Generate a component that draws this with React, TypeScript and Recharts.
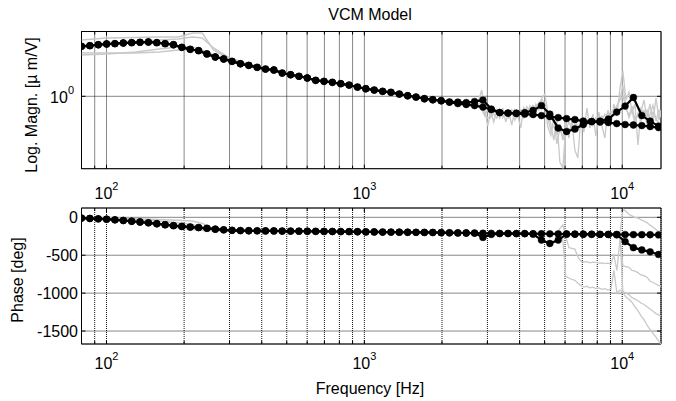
import React from 'react';
import { LineChart, Line, XAxis, YAxis, CartesianGrid, ReferenceArea } from 'recharts';

const FONT = '"Liberation Sans", Arial, sans-serif';
const X_MIN = 80;
const X_MAX = 14135;
const X_TICKS = [80, 90, 100, 200, 300, 400, 500, 600, 700, 800, 900, 1000, 2000, 3000, 4000, 5000, 6000, 7000, 8000, 9000, 10000];
const MAG_DOMAIN = [0.297, 2.965];
const MAG_TICKS = [1];
const PHASE_DOMAIN = [-1671, 123];
const PHASE_TICKS = [0, -500, -1000, -1500];

// model frequency grid (Hz)
const FREQ = [80.0, 86.2, 92.9, 100.1, 107.8, 116.2, 125.2, 134.9, 145.4, 156.7,
  168.8, 181.9, 196.0, 211.2, 227.6, 245.2, 264.2, 284.7, 306.8, 330.6,
  356.2, 383.8, 413.6, 445.7, 480.2, 517.5, 557.6, 600.8, 647.4, 697.6,
  751.6, 809.9, 872.8, 940.4, 1013, 1092, 1177, 1268, 1366, 1472,
  1586, 1709, 1842, 1985, 2138, 2304, 2483, 2675, 2883, 3106,
  3347, 3607, 3886, 4187, 4512, 4862, 5239, 5645, 6083, 6554,
  7063, 7610, 8200, 8836, 9520, 10260, 11050, 11910, 12830, 13830];

const MAG_MODEL_SMOOTH = [2.313, 2.337, 2.375, 2.405, 2.417, 2.444, 2.457, 2.474, 2.486, 2.457,
  2.417, 2.375, 2.274, 2.200, 2.149, 2.034, 1.933, 1.869, 1.797, 1.726,
  1.681, 1.626, 1.580, 1.554, 1.477, 1.436, 1.399, 1.359, 1.307, 1.285,
  1.264, 1.235, 1.208, 1.168, 1.135, 1.111, 1.087, 1.069, 1.039, 1.009,
  0.988, 0.960, 0.944, 0.928, 0.908, 0.885, 0.871, 0.856, 0.835, 0.801,
  0.761, 0.755, 0.749, 0.742, 0.736, 0.724, 0.712, 0.700, 0.688, 0.677,
  0.660, 0.655, 0.649, 0.644, 0.633, 0.623, 0.618, 0.612, 0.602, 0.592];

const MAG_MODEL_RESONANT = [2.313, 2.337, 2.375, 2.405, 2.417, 2.444, 2.457, 2.474, 2.486, 2.457,
  2.417, 2.375, 2.274, 2.200, 2.149, 2.034, 1.933, 1.869, 1.797, 1.726,
  1.681, 1.626, 1.580, 1.554, 1.477, 1.436, 1.399, 1.359, 1.307, 1.285,
  1.264, 1.235, 1.208, 1.168, 1.135, 1.111, 1.087, 1.069, 1.039, 1.009,
  0.988, 0.960, 0.944, 0.928, 0.908, 0.908, 0.900, 0.916, 0.939, 0.807,
  0.761, 0.755, 0.755, 0.761, 0.788, 0.856, 0.742, 0.587, 0.554, 0.578,
  0.623, 0.655, 0.660, 0.683, 0.768, 0.849, 0.980, 0.724, 0.660, 0.607];

const PHASE_MODEL_SMOOTH = [-10, -15, -20, -25, -33, -42, -52, -62, -72, -85,
  -98, -110, -120, -128, -135, -145, -156, -165, -171, -175,
  -177, -178, -179, -180, -181, -182, -183, -184, -185, -186,
  -187, -188, -189, -190, -192, -193, -194, -195, -196, -197,
  -198, -199, -200, -202, -204, -206, -207, -208, -210, -211,
  -212, -213, -214, -215, -216, -217, -218, -219, -220, -221,
  -222, -223, -224, -225, -226, -227, -228, -229, -230, -232];

const PHASE_MODEL_RESONANT = [-10, -15, -20, -25, -33, -42, -52, -62, -72, -85,
  -98, -110, -120, -128, -135, -145, -156, -165, -171, -175,
  -177, -178, -179, -180, -181, -182, -183, -184, -185, -186,
  -187, -188, -189, -190, -192, -193, -194, -195, -196, -197,
  -198, -199, -200, -202, -204, -206, -207, -208, -265, -225,
  -215, -214, -215, -216, -222, -300, -345, -300, -222, -222,
  -223, -224, -225, -226, -230, -320, -400, -430, -455, -490];

// measured curves, low frequency part (Hz)
const FREQ_LOW = [80, 100, 130, 160, 190, 215, 235, 260, 300, 400, 600, 1000, 1500, 2000, 2700];
const MAG_MEAS_LOW_1 = [2.572, 2.660, 2.683, 2.705, 2.705, 2.893, 2.893, 2.175, 1.870, 1.61, 1.36, 1.14, 1.005, 0.928, 0.895];
const MAG_MEAS_LOW_2 = [2.068, 2.068, 2.068, 2.103, 2.175, 2.175, 2.103, 2.000, 1.84, 1.61, 1.36, 1.14, 1.005, 0.928, 0.895];
const MAG_MEAS_LOW_3 = [2.249, 2.365, 2.488, 2.572, 2.616, 2.705, 2.660, 2.249, 1.902, 1.61, 1.36, 1.14, 1.005, 0.928, 0.895];
const MAG_MEAS_LOW_4 = [2.000, 2.033, 2.103, 2.212, 2.288, 2.288, 2.175, 2.000, 1.84, 1.61, 1.36, 1.14, 1.005, 0.928, 0.895];
const PHASE_MEAS_LOW_1 = [-5, -10, -20, -30, -40, -50, -80, -150, -178, -181, -184, -192, -197, -202, -208];
const PHASE_MEAS_LOW_2 = [-12, -25, -60, -100, -140, -160, -172, -177, -178, -181, -184, -192, -197, -202, -208];
const PHASE_MEAS_LOW_3 = [-8, -15, -30, -50, -70, -95, -130, -165, -177, -181, -184, -192, -197, -202, -208];

// measured curves, high frequency part (Hz)
const FREQ_HIGH = [2703, 2777, 2852, 2930, 3009, 3091, 3175, 3262, 3350, 3441,
  3535, 3631, 3729, 3831, 3935, 4042, 4151, 4265, 4380, 4500,
  4622, 4748, 4876, 5009, 5145, 5285, 5428, 5576, 5728, 5884,
  6043, 6209, 6377, 6551, 6729, 6912, 7099, 7293, 7490, 7694,
  7903, 8118, 8338, 8565, 8797, 9037, 9283, 9536, 9795, 10060,
  10335, 10617, 10905, 11202, 11507, 11820, 12141, 12472, 12810, 13160,
  13517, 13885, 14135];

const MAG_MEAS_HIGH_1 = [0.879, 0.940, 1.111, 0.795, 0.608, 0.768, 0.650, 0.795, 0.695, 0.822,
  0.650, 0.768, 0.618, 0.795, 0.718, 0.588, 0.822, 0.718, 0.850, 0.743,
  0.879, 0.795, 0.972, 1.039, 0.768, 0.628, 0.480, 0.695, 0.332, 0.300,
  0.618, 0.497, 0.672, 0.406, 0.355, 0.695, 0.549, 0.822, 0.588, 0.743,
  0.514, 0.768, 0.608, 0.497, 0.795, 0.628, 0.879, 0.718, 1.149, 1.529,
  0.940, 1.075, 0.768, 0.879, 0.442, 0.768, 0.940, 0.695, 0.879, 0.650,
  0.972, 0.672, 0.795];

const MAG_MEAS_HIGH_2 = [0.850, 0.879, 0.909, 0.743, 0.695, 0.718, 0.743, 0.695, 0.768, 0.718,
  0.743, 0.695, 0.768, 0.672, 0.743, 0.768, 0.695, 0.795, 0.718, 0.795,
  0.768, 0.850, 0.879, 0.822, 0.695, 0.568, 0.608, 0.531, 0.628, 0.480,
  0.568, 0.650, 0.588, 0.628, 0.568, 0.608, 0.695, 0.628, 0.672, 0.608,
  0.695, 0.628, 0.718, 0.672, 0.768, 0.718, 0.795, 0.850, 0.940, 1.005,
  0.822, 0.718, 0.850, 0.672, 0.743, 0.822, 0.718, 0.795, 0.672, 0.768,
  0.695, 0.628, 0.608];

const MAG_MEAS_HIGH_3 = [0.900, 0.860, 0.800, 0.720, 0.800, 0.700, 0.780, 0.740, 0.800, 0.700,
  0.780, 0.720, 0.800, 0.740, 0.700, 0.800, 0.760, 0.840, 0.780, 0.860,
  0.820, 0.900, 0.950, 0.880, 0.600, 0.520, 0.700, 0.450, 0.580, 0.500,
  0.650, 0.550, 0.620, 0.700, 0.580, 0.660, 0.600, 0.680, 0.620, 0.700,
  0.640, 0.720, 0.660, 0.740, 0.700, 0.780, 0.740, 0.850, 0.950, 1.200,
  0.850, 0.700, 0.800, 0.620, 0.750, 0.660, 0.800, 0.620, 0.740, 0.860,
  0.660, 0.800, 0.700];

const PHASE_MEAS_HIGH_A = [-208, -209, -209, -212, -230, -215, -210, -212, -214, -211,
  -213, -214, -212, -215, -216, -214, -215, -217, -216, -218,
  -217, -218, -220, -219, -218, -222, -225, -215, -150, -100,
  -250, -400, -410, -420, -520, -580, -590, -585, -600, -590,
  -595, -605, -600, -610, -605, -615, -500, -700, -300, -640,
  -650, -660, -700, -710, -730, -760, -770, -790, -840, -860,
  -880, -900, -910];

const PHASE_MEAS_HIGH_B = [-210, -208, -211, -210, -213, -212, -214, -213, -212, -216,
  -214, -215, -213, -216, -217, -215, -218, -216, -219, -218,
  -220, -219, -221, -220, -222, -221, -228, -222, -210, -300,
  -780, -800, -820, -830, -870, -900, -920, -910, -930, -920,
  -940, -930, -950, -940, -960, -950, -700, -1000, -960, -980,
  -1000, -1020, -1060, -1080, -1100, -1130, -1150, -1180, -1210, -1240,
  -1270, -1290, -1300];

const PHASE_MEAS_HIGH_C = [null, null, null, null, null, null, null, null, null, null,
  null, null, null, null, null, null, null, null, null, null,
  null, null, null, null, null, null, null, null, null, null,
  null, null, null, null, null, null, null, null, null, null,
  null, null, null, null, null, null, null, null, -220, 110,
  80, 40, 20, 0, -10, -30, -50, -70, -100, -130,
  -160, -190, -200];

const PHASE_MEAS_HIGH_D = [null, null, null, null, null, null, null, null, null, null,
  null, null, null, null, null, null, null, null, null, null,
  null, null, null, null, null, null, null, null, null, null,
  null, null, null, null, null, null, null, null, null, null,
  null, null, null, null, null, null, null, null, -220, -1000,
  -1050, -1080, -1120, -1180, -1230, -1300, -1350, -1420, -1480, -1530,
  -1580, -1640, -1670];

type Pt = { f: number; v: number };
const toSeries = (fs: number[], vs: (number | null)[]): Pt[] =>
  fs.map((f, i) => ({ f, v: vs[i] as number })).filter((d) => d.v !== null && d.v !== undefined);

const GRAY = '#c9c9c9';
const W = 676;
const H = 401;
const LEFT = 81.5;
const RIGHT = 661;
const TOP1 = 31.5;
const BOT1 = 168.7;
const TOP2 = 208;
const BOT2 = 344;

const isPow10 = (v: number) => {
  const e = Math.log10(v);
  return Math.abs(e - Math.round(e)) < 1e-6;
};

function makeXTick(top: number, bottom: number, baseline: number) {
  return (props: any) => {
    const { x, payload } = props;
    const v = payload.value as number;
    const major = isPow10(v);
    const len = major ? 4 : 3;
    return (
      <g>
        <line x1={x} x2={x} y1={bottom} y2={bottom - len} stroke="#000" strokeWidth={1} />
        <line x1={x} x2={x} y1={top} y2={top + len} stroke="#000" strokeWidth={1} />
        {major && (
          <text x={x} y={baseline} textAnchor="middle" fontFamily={FONT} fontSize={16} fill="#000">
            10<tspan dy={-9} fontSize={11}>{Math.round(Math.log10(v))}</tspan>
          </text>
        )}
      </g>
    );
  };
}

const MagYTick = (props: any) => {
  const { y, payload } = props;
  const e = Math.round(Math.log10(payload.value));
  return (
    <g>
      <line x1={LEFT} x2={LEFT + 4} y1={y} y2={y} stroke="#000" />
      <line x1={RIGHT - 4} x2={RIGHT} y1={y} y2={y} stroke="#000" />
      <text x={74} y={y + 7} textAnchor="end" fontFamily={FONT} fontSize={16} fill="#000">
        10<tspan dy={-9} fontSize={11}>{e}</tspan>
      </text>
    </g>
  );
};

const PhaseYTick = (props: any) => {
  const { y, payload } = props;
  return (
    <g>
      <line x1={LEFT} x2={LEFT + 4} y1={y} y2={y} stroke="#000" />
      <line x1={RIGHT - 4} x2={RIGHT} y1={y} y2={y} stroke="#000" />
      <text x={78} y={y + 6} textAnchor="end" fontFamily={FONT} fontSize={16} fill="#000">
        {payload.value}
      </text>
    </g>
  );
};

const TopXTick = makeXTick(TOP1, BOT1, 199);
const BottomXTick = makeXTick(TOP2, BOT2, 369);

const blackDot = { r: 3.4, fill: '#000', stroke: '#000', strokeWidth: 0.5 };

export default function App() {
  const magSmooth = toSeries(FREQ, MAG_MODEL_SMOOTH);
  const magRes = toSeries(FREQ, MAG_MODEL_RESONANT);
  const phSmooth = toSeries(FREQ, PHASE_MODEL_SMOOTH);
  const phRes = toSeries(FREQ, PHASE_MODEL_RESONANT);
  const magLow = [MAG_MEAS_LOW_1, MAG_MEAS_LOW_2, MAG_MEAS_LOW_3, MAG_MEAS_LOW_4].map((a) => toSeries(FREQ_LOW, a));
  const magHigh = [MAG_MEAS_HIGH_1, MAG_MEAS_HIGH_2, MAG_MEAS_HIGH_3].map((a) => toSeries(FREQ_HIGH, a));
  const phLow = [PHASE_MEAS_LOW_1, PHASE_MEAS_LOW_2, PHASE_MEAS_LOW_3].map((a) => toSeries(FREQ_LOW, a));
  const phHigh = [PHASE_MEAS_HIGH_A, PHASE_MEAS_HIGH_B, PHASE_MEAS_HIGH_C, PHASE_MEAS_HIGH_D].map((a) => toSeries(FREQ_HIGH, a));

  const grid = <CartesianGrid stroke="#111" strokeDasharray="1 1" strokeWidth={1} />;

  return (
    <div style={{ position: 'absolute', left: 0, top: 0, width: W, height: H, background: '#fff' }}>
      <div style={{ position: 'absolute', left: 0, top: 0 }}>
        <LineChart width={W} height={H} margin={{ top: TOP1, right: W - RIGHT, bottom: H - BOT1 - 31.3, left: 0 }}>
          {grid}
          <XAxis dataKey="f" type="number" scale="log" domain={[X_MIN, X_MAX]} allowDataOverflow
            ticks={X_TICKS} interval={0} tickLine={false} axisLine={false} tick={TopXTick} height={31.3} />
          <YAxis type="number" scale="log" domain={MAG_DOMAIN} allowDataOverflow ticks={MAG_TICKS}
            interval={0} tickLine={false} axisLine={false} tick={MagYTick} width={LEFT} />
          {magLow.map((d, i) => (
            <Line key={'ml' + i} data={d} dataKey="v" stroke={GRAY} strokeWidth={1.5} dot={false}
              activeDot={false} isAnimationActive={false} />
          ))}
          {magHigh.map((d, i) => (
            <Line key={'mh' + i} data={d} dataKey="v" stroke={GRAY} strokeWidth={1.3} dot={false}
              activeDot={false} isAnimationActive={false} />
          ))}
          <Line data={magSmooth} dataKey="v" stroke="#000" strokeWidth={2.2} dot={blackDot}
            activeDot={false} isAnimationActive={false} />
          <Line data={magRes} dataKey="v" stroke="#000" strokeWidth={2.2} dot={blackDot}
            activeDot={false} isAnimationActive={false} />
          <ReferenceArea x1={X_MIN} x2={X_MAX} y1={MAG_DOMAIN[0]} y2={MAG_DOMAIN[1]} fill="none"
            fillOpacity={0} stroke="#000" strokeWidth={1} ifOverflow="visible" />
        </LineChart>
      </div>
      <div style={{ position: 'absolute', left: 0, top: 0 }}>
        <LineChart width={W} height={H} margin={{ top: TOP2, right: W - RIGHT, bottom: 0, left: 0 }}>
          {grid}
          <XAxis dataKey="f" type="number" scale="log" domain={[X_MIN, X_MAX]} allowDataOverflow
            ticks={X_TICKS} interval={0} tickLine={false} axisLine={false} tick={BottomXTick} height={H - BOT2} />
          <YAxis type="number" domain={PHASE_DOMAIN} allowDataOverflow ticks={PHASE_TICKS}
            interval={0} tickLine={false} axisLine={false} tick={PhaseYTick} width={LEFT} />
          {phLow.map((d, i) => (
            <Line key={'pl' + i} data={d} dataKey="v" stroke={GRAY} strokeWidth={1.5} dot={false}
              activeDot={false} isAnimationActive={false} />
          ))}
          {phHigh.map((d, i) => (
            <Line key={'ph' + i} data={d} dataKey="v" stroke={GRAY} strokeWidth={1.3} dot={false}
              activeDot={false} isAnimationActive={false} />
          ))}
          <Line data={phSmooth} dataKey="v" stroke="#000" strokeWidth={2.2} dot={blackDot}
            activeDot={false} isAnimationActive={false} />
          <Line data={phRes} dataKey="v" stroke="#000" strokeWidth={2.2} dot={blackDot}
            activeDot={false} isAnimationActive={false} />
          <ReferenceArea x1={X_MIN} x2={X_MAX} y1={PHASE_DOMAIN[0]} y2={PHASE_DOMAIN[1]} fill="none"
            fillOpacity={0} stroke="#000" strokeWidth={1} ifOverflow="visible" />
        </LineChart>
      </div>
      <svg width={W} height={H} style={{ position: 'absolute', left: 0, top: 0, pointerEvents: 'none' }}>
        <text x={370} y={20} textAnchor="middle" fontFamily={FONT} fontSize={16} fill="#000">VCM Model</text>
        <text x={36.6} y={105} textAnchor="middle" fontFamily={FONT} fontSize={16} fill="#000"
          transform="rotate(-90 36.6 105)">Log. Magn. [µ m/V]</text>
        <text x={23.3} y={280} textAnchor="middle" fontFamily={FONT} fontSize={16} fill="#000"
          transform="rotate(-90 23.3 280)">Phase [deg]</text>
        <text x={370} y={394} textAnchor="middle" fontFamily={FONT} fontSize={16} fill="#000">Frequency [Hz]</text>
      </svg>
    </div>
  );
}
